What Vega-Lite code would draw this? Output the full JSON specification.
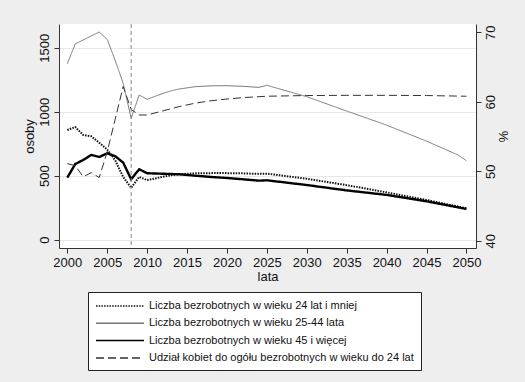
{
  "$schema": "https://vega.github.io/schema/vega-lite/v6.json",
  "width": 417,
  "height": 224,
  "autosize": "none",
  "padding": {"left": 59, "top": 24, "right": 49, "bottom": 134},
  "background": "#eeeeee",
  "config": {
    "font": "Liberation Sans",
    "view": {"stroke": null, "fill": "white"},
    "axis": {
      "domainColor": "#333333",
      "tickColor": "#333333",
      "labelColor": "#111111",
      "titleColor": "#111111",
      "labelFontSize": 13,
      "titleFontSize": 13,
      "titleFontWeight": "normal",
      "tickSize": 5
    },
    "legend": {
      "orient": "none",
      "legendX": 29,
      "legendY": 268,
      "fillColor": "white",
      "strokeColor": "#222222",
      "padding": 7,
      "cornerRadius": 0,
      "symbolType": "M-1,0H7",
      "symbolSize": 144,
      "labelFontSize": 11,
      "labelColor": "#111111",
      "labelOffset": 40,
      "labelLimit": 400,
      "rowPadding": 5.3,
      "title": null
    }
  },
  "data": {
    "values": [
      {"year": 2000, "series": "Liczba bezrobotnych w wieku 24 lat i mniej", "value": 857},
      {"year": 2001, "series": "Liczba bezrobotnych w wieku 24 lat i mniej", "value": 880},
      {"year": 2002, "series": "Liczba bezrobotnych w wieku 24 lat i mniej", "value": 818},
      {"year": 2003, "series": "Liczba bezrobotnych w wieku 24 lat i mniej", "value": 808},
      {"year": 2004, "series": "Liczba bezrobotnych w wieku 24 lat i mniej", "value": 758},
      {"year": 2005, "series": "Liczba bezrobotnych w wieku 24 lat i mniej", "value": 705},
      {"year": 2006, "series": "Liczba bezrobotnych w wieku 24 lat i mniej", "value": 620},
      {"year": 2007, "series": "Liczba bezrobotnych w wieku 24 lat i mniej", "value": 490},
      {"year": 2008, "series": "Liczba bezrobotnych w wieku 24 lat i mniej", "value": 405},
      {"year": 2009, "series": "Liczba bezrobotnych w wieku 24 lat i mniej", "value": 490},
      {"year": 2010, "series": "Liczba bezrobotnych w wieku 24 lat i mniej", "value": 466},
      {"year": 2011, "series": "Liczba bezrobotnych w wieku 24 lat i mniej", "value": 478},
      {"year": 2012, "series": "Liczba bezrobotnych w wieku 24 lat i mniej", "value": 492},
      {"year": 2013, "series": "Liczba bezrobotnych w wieku 24 lat i mniej", "value": 503},
      {"year": 2014, "series": "Liczba bezrobotnych w wieku 24 lat i mniej", "value": 512},
      {"year": 2016, "series": "Liczba bezrobotnych w wieku 24 lat i mniej", "value": 518},
      {"year": 2018, "series": "Liczba bezrobotnych w wieku 24 lat i mniej", "value": 520},
      {"year": 2020, "series": "Liczba bezrobotnych w wieku 24 lat i mniej", "value": 520},
      {"year": 2022, "series": "Liczba bezrobotnych w wieku 24 lat i mniej", "value": 518},
      {"year": 2024, "series": "Liczba bezrobotnych w wieku 24 lat i mniej", "value": 514},
      {"year": 2025, "series": "Liczba bezrobotnych w wieku 24 lat i mniej", "value": 516},
      {"year": 2030, "series": "Liczba bezrobotnych w wieku 24 lat i mniej", "value": 476},
      {"year": 2035, "series": "Liczba bezrobotnych w wieku 24 lat i mniej", "value": 426},
      {"year": 2040, "series": "Liczba bezrobotnych w wieku 24 lat i mniej", "value": 370},
      {"year": 2045, "series": "Liczba bezrobotnych w wieku 24 lat i mniej", "value": 310},
      {"year": 2050, "series": "Liczba bezrobotnych w wieku 24 lat i mniej", "value": 245},

      {"year": 2000, "series": "Liczba bezrobotnych w wieku 25-44 lata", "value": 1375},
      {"year": 2001, "series": "Liczba bezrobotnych w wieku 25-44 lata", "value": 1530},
      {"year": 2002, "series": "Liczba bezrobotnych w wieku 25-44 lata", "value": 1560},
      {"year": 2003, "series": "Liczba bezrobotnych w wieku 25-44 lata", "value": 1592},
      {"year": 2004, "series": "Liczba bezrobotnych w wieku 25-44 lata", "value": 1622},
      {"year": 2005, "series": "Liczba bezrobotnych w wieku 25-44 lata", "value": 1565},
      {"year": 2006, "series": "Liczba bezrobotnych w wieku 25-44 lata", "value": 1400},
      {"year": 2007, "series": "Liczba bezrobotnych w wieku 25-44 lata", "value": 1222},
      {"year": 2008, "series": "Liczba bezrobotnych w wieku 25-44 lata", "value": 948},
      {"year": 2009, "series": "Liczba bezrobotnych w wieku 25-44 lata", "value": 1130},
      {"year": 2010, "series": "Liczba bezrobotnych w wieku 25-44 lata", "value": 1097},
      {"year": 2011, "series": "Liczba bezrobotnych w wieku 25-44 lata", "value": 1120},
      {"year": 2012, "series": "Liczba bezrobotnych w wieku 25-44 lata", "value": 1143},
      {"year": 2013, "series": "Liczba bezrobotnych w wieku 25-44 lata", "value": 1163},
      {"year": 2014, "series": "Liczba bezrobotnych w wieku 25-44 lata", "value": 1177},
      {"year": 2016, "series": "Liczba bezrobotnych w wieku 25-44 lata", "value": 1195},
      {"year": 2018, "series": "Liczba bezrobotnych w wieku 25-44 lata", "value": 1202},
      {"year": 2020, "series": "Liczba bezrobotnych w wieku 25-44 lata", "value": 1203},
      {"year": 2022, "series": "Liczba bezrobotnych w wieku 25-44 lata", "value": 1198},
      {"year": 2024, "series": "Liczba bezrobotnych w wieku 25-44 lata", "value": 1190},
      {"year": 2025, "series": "Liczba bezrobotnych w wieku 25-44 lata", "value": 1206},
      {"year": 2030, "series": "Liczba bezrobotnych w wieku 25-44 lata", "value": 1117},
      {"year": 2035, "series": "Liczba bezrobotnych w wieku 25-44 lata", "value": 1005},
      {"year": 2040, "series": "Liczba bezrobotnych w wieku 25-44 lata", "value": 895},
      {"year": 2045, "series": "Liczba bezrobotnych w wieku 25-44 lata", "value": 770},
      {"year": 2049, "series": "Liczba bezrobotnych w wieku 25-44 lata", "value": 660},
      {"year": 2050, "series": "Liczba bezrobotnych w wieku 25-44 lata", "value": 617},

      {"year": 2000, "series": "Liczba bezrobotnych w wieku 45 i więcej", "value": 485},
      {"year": 2001, "series": "Liczba bezrobotnych w wieku 45 i więcej", "value": 591},
      {"year": 2002, "series": "Liczba bezrobotnych w wieku 45 i więcej", "value": 623},
      {"year": 2003, "series": "Liczba bezrobotnych w wieku 45 i więcej", "value": 662},
      {"year": 2004, "series": "Liczba bezrobotnych w wieku 45 i więcej", "value": 646},
      {"year": 2005, "series": "Liczba bezrobotnych w wieku 45 i więcej", "value": 675},
      {"year": 2006, "series": "Liczba bezrobotnych w wieku 45 i więcej", "value": 652},
      {"year": 2007, "series": "Liczba bezrobotnych w wieku 45 i więcej", "value": 602},
      {"year": 2008, "series": "Liczba bezrobotnych w wieku 45 i więcej", "value": 472},
      {"year": 2009, "series": "Liczba bezrobotnych w wieku 45 i więcej", "value": 550},
      {"year": 2010, "series": "Liczba bezrobotnych w wieku 45 i więcej", "value": 519},
      {"year": 2011, "series": "Liczba bezrobotnych w wieku 45 i więcej", "value": 517},
      {"year": 2012, "series": "Liczba bezrobotnych w wieku 45 i więcej", "value": 515},
      {"year": 2014, "series": "Liczba bezrobotnych w wieku 45 i więcej", "value": 511},
      {"year": 2016, "series": "Liczba bezrobotnych w wieku 45 i więcej", "value": 500},
      {"year": 2018, "series": "Liczba bezrobotnych w wieku 45 i więcej", "value": 490},
      {"year": 2020, "series": "Liczba bezrobotnych w wieku 45 i więcej", "value": 482},
      {"year": 2022, "series": "Liczba bezrobotnych w wieku 45 i więcej", "value": 472},
      {"year": 2024, "series": "Liczba bezrobotnych w wieku 45 i więcej", "value": 461},
      {"year": 2025, "series": "Liczba bezrobotnych w wieku 45 i więcej", "value": 464},
      {"year": 2030, "series": "Liczba bezrobotnych w wieku 45 i więcej", "value": 427},
      {"year": 2035, "series": "Liczba bezrobotnych w wieku 45 i więcej", "value": 385},
      {"year": 2040, "series": "Liczba bezrobotnych w wieku 45 i więcej", "value": 350},
      {"year": 2045, "series": "Liczba bezrobotnych w wieku 45 i więcej", "value": 300},
      {"year": 2050, "series": "Liczba bezrobotnych w wieku 45 i więcej", "value": 240},

      {"year": 2000, "series": "Udział kobiet do ogółu bezrobotnych w wieku do 24 lat", "value": 51.1},
      {"year": 2001, "series": "Udział kobiet do ogółu bezrobotnych w wieku do 24 lat", "value": 50.8},
      {"year": 2002, "series": "Udział kobiet do ogółu bezrobotnych w wieku do 24 lat", "value": 49.2},
      {"year": 2003, "series": "Udział kobiet do ogółu bezrobotnych w wieku do 24 lat", "value": 49.8},
      {"year": 2004, "series": "Udział kobiet do ogółu bezrobotnych w wieku do 24 lat", "value": 49.1},
      {"year": 2005, "series": "Udział kobiet do ogółu bezrobotnych w wieku do 24 lat", "value": 52.8},
      {"year": 2006, "series": "Udział kobiet do ogółu bezrobotnych w wieku do 24 lat", "value": 57.5},
      {"year": 2007, "series": "Udział kobiet do ogółu bezrobotnych w wieku do 24 lat", "value": 62.2},
      {"year": 2008, "series": "Udział kobiet do ogółu bezrobotnych w wieku do 24 lat", "value": 58.9},
      {"year": 2009, "series": "Udział kobiet do ogółu bezrobotnych w wieku do 24 lat", "value": 58.1},
      {"year": 2010, "series": "Udział kobiet do ogółu bezrobotnych w wieku do 24 lat", "value": 58.1},
      {"year": 2012, "series": "Udział kobiet do ogółu bezrobotnych w wieku do 24 lat", "value": 58.7},
      {"year": 2014, "series": "Udział kobiet do ogółu bezrobotnych w wieku do 24 lat", "value": 59.3},
      {"year": 2016, "series": "Udział kobiet do ogółu bezrobotnych w wieku do 24 lat", "value": 59.8},
      {"year": 2018, "series": "Udział kobiet do ogółu bezrobotnych w wieku do 24 lat", "value": 60.15},
      {"year": 2020, "series": "Udział kobiet do ogółu bezrobotnych w wieku do 24 lat", "value": 60.4},
      {"year": 2022, "series": "Udział kobiet do ogółu bezrobotnych w wieku do 24 lat", "value": 60.6},
      {"year": 2025, "series": "Udział kobiet do ogółu bezrobotnych w wieku do 24 lat", "value": 60.8},
      {"year": 2030, "series": "Udział kobiet do ogółu bezrobotnych w wieku do 24 lat", "value": 60.9},
      {"year": 2035, "series": "Udział kobiet do ogółu bezrobotnych w wieku do 24 lat", "value": 60.93},
      {"year": 2040, "series": "Udział kobiet do ogółu bezrobotnych w wieku do 24 lat", "value": 60.93},
      {"year": 2045, "series": "Udział kobiet do ogółu bezrobotnych w wieku do 24 lat", "value": 60.9},
      {"year": 2050, "series": "Udział kobiet do ogółu bezrobotnych w wieku do 24 lat", "value": 60.8}
    ]
  },
  "layer": [
    {
      "transform": [{"filter": {"field": "series", "oneOf": ["Liczba bezrobotnych w wieku 24 lat i mniej", "Liczba bezrobotnych w wieku 25-44 lata", "Liczba bezrobotnych w wieku 45 i więcej"]}}],
      "mark": {"type": "line", "clip": true},
      "encoding": {
        "x": {"field": "year", "type": "quantitative", "scale": {"domain": [1998.96, 2051.2], "nice": false, "zero": false},
              "axis": {"values": [2000, 2005, 2010, 2015, 2020, 2025, 2030, 2035, 2040, 2045, 2050], "format": "d", "title": "lata", "grid": false, "labelPadding": 3, "titlePadding": 1, "labelFlush": false}},
        "y": {"field": "value", "type": "quantitative", "scale": {"domain": [-65, 1685], "nice": false, "zero": false},
              "axis": {"orient": "left", "values": [0, 500, 1000, 1500], "format": "d", "title": "osoby", "labelAngle": 270, "grid": true, "gridColor": "#e8e8e8", "labelPadding": 3, "titlePadding": 2}},
        "color": {"field": "series", "type": "nominal",
                  "scale": {"domain": ["Liczba bezrobotnych w wieku 24 lat i mniej", "Liczba bezrobotnych w wieku 25-44 lata", "Liczba bezrobotnych w wieku 45 i więcej", "Udział kobiet do ogółu bezrobotnych w wieku do 24 lat"],
                            "range": ["#111111", "#777777", "#000000", "#333333"]},
                  "legend": {"encoding": {"symbols": {"update": {"strokeWidth": {"signal": "datum.value === 'Liczba bezrobotnych w wieku 45 i więcej' ? 2.4 : datum.value === 'Liczba bezrobotnych w wieku 24 lat i mniej' ? 2 : 1"}}}}}},
        "strokeDash": {"field": "series", "type": "nominal",
                  "scale": {"domain": ["Liczba bezrobotnych w wieku 24 lat i mniej", "Liczba bezrobotnych w wieku 25-44 lata", "Liczba bezrobotnych w wieku 45 i więcej", "Udział kobiet do ogółu bezrobotnych w wieku do 24 lat"],
                            "range": [[1.5, 1.2], [1, 0], [1, 0], [8, 4]]}},
        "strokeWidth": {"condition": [{"test": "datum.series === 'Liczba bezrobotnych w wieku 45 i więcej'", "value": 2.4}, {"test": "datum.series === 'Liczba bezrobotnych w wieku 24 lat i mniej'", "value": 2}], "value": 1}
      }
    },
    {
      "transform": [{"filter": {"field": "series", "equal": "Udział kobiet do ogółu bezrobotnych w wieku do 24 lat"}}],
      "mark": {"type": "line", "clip": true, "strokeWidth": 1},
      "encoding": {
        "x": {"field": "year", "type": "quantitative"},
        "y": {"field": "value", "type": "quantitative", "scale": {"domain": [38.95, 71.2], "nice": false, "zero": false},
              "axis": {"orient": "right", "values": [40, 50, 60, 70], "title": "%", "labelAngle": 270, "grid": false, "labelPadding": 3, "titlePadding": -2}},
        "color": {"field": "series", "type": "nominal"},
        "strokeDash": {"field": "series", "type": "nominal"}
      }
    },
    {
      "data": {"values": [{"year": 2008}]},
      "mark": {"type": "rule", "color": "#888888", "strokeDash": [4, 3], "strokeWidth": 1},
      "encoding": {"x": {"field": "year", "type": "quantitative"}}
    }
  ],
  "resolve": {"scale": {"y": "independent"}},
  "encoding": {}
}
